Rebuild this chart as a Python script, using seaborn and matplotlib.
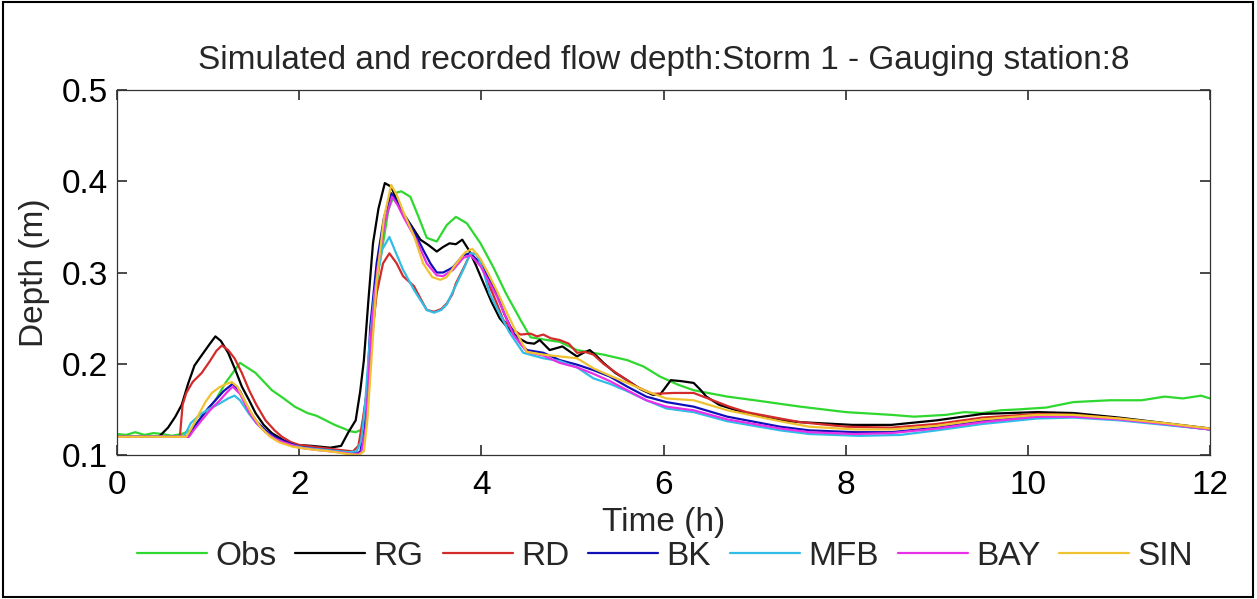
import pandas as pd
import seaborn as sns
import matplotlib
matplotlib.use("Agg")
import matplotlib.pyplot as plt
from matplotlib.patches import Rectangle

# values (time in h, depth in m)
obs_t = [0, 0.1, 0.2, 0.3, 0.4, 0.5, 0.6, 0.71, 0.81, 0.93, 1.08, 1.19, 1.27, 1.35, 1.52, 1.70,
         1.83, 1.95, 2.09, 2.19, 2.29, 2.39, 2.49, 2.56, 2.62, 2.69, 2.74, 2.81, 2.87, 2.92, 2.98,
         3.05, 3.12, 3.17, 3.22, 3.31, 3.40, 3.51, 3.62, 3.72, 3.84, 3.99, 4.13, 4.27, 4.43, 4.54,
         4.72, 4.86, 5.05, 5.34, 5.60, 5.78, 5.96, 6.16, 6.33, 6.70, 7.0, 7.5, 8.0, 8.5, 8.75,
         9.1, 9.3, 9.5, 9.7, 9.9, 10.2, 10.5, 10.9, 11.25, 11.5, 11.7, 11.9, 12.0]
obs_v = [0.123, 0.122, 0.125, 0.122, 0.124, 0.123, 0.121, 0.123, 0.127, 0.142, 0.160, 0.179, 0.190,
         0.201, 0.190, 0.171, 0.162, 0.153, 0.146, 0.143, 0.138, 0.133, 0.129, 0.126, 0.125, 0.128,
         0.168, 0.240, 0.303, 0.332, 0.369, 0.387, 0.389, 0.386, 0.383, 0.361, 0.338, 0.334, 0.352,
         0.361, 0.354, 0.332, 0.306, 0.277, 0.248, 0.229, 0.226, 0.224, 0.215, 0.210, 0.204, 0.197,
         0.186, 0.177, 0.171, 0.164, 0.160, 0.153, 0.147, 0.144, 0.142, 0.144, 0.147, 0.146, 0.149,
         0.150, 0.152, 0.158, 0.160, 0.160, 0.164, 0.162, 0.165, 0.162]

rg_t = [0, 0.46, 0.56, 0.64, 0.71, 0.78, 0.85, 0.92, 0.97, 1.02, 1.08, 1.14, 1.22, 1.30, 1.37, 1.45,
        1.52, 1.61, 1.70, 1.83, 1.98, 2.14, 2.34, 2.46, 2.54, 2.62, 2.67, 2.71, 2.76, 2.81, 2.87,
        2.94, 3.01, 3.07, 3.14, 3.24, 3.33, 3.42, 3.51, 3.58, 3.65, 3.72, 3.79, 3.86, 3.94, 4.02,
        4.11, 4.20, 4.31, 4.41, 4.50, 4.58, 4.64, 4.75, 4.82, 4.89, 4.99, 5.05, 5.12, 5.19, 5.27,
        5.34, 5.47, 5.60, 5.75, 5.88, 5.96, 6.02, 6.08, 6.19, 6.33, 6.40, 6.47, 6.61, 6.77, 6.91,
        7.12, 7.28, 7.5, 8.07, 8.5, 9.0, 9.5, 10.1, 10.5, 11.0, 11.5, 12.0]
rg_v = [0.120, 0.120, 0.130, 0.142, 0.155, 0.178, 0.198, 0.208, 0.215, 0.222, 0.230, 0.225, 0.212,
        0.193, 0.175, 0.160, 0.146, 0.133, 0.124, 0.116, 0.111, 0.110, 0.108, 0.110, 0.125, 0.138,
        0.170, 0.204, 0.270, 0.332, 0.370, 0.398, 0.394, 0.380, 0.365, 0.350, 0.336, 0.330, 0.323,
        0.328, 0.332, 0.331, 0.336, 0.325, 0.308, 0.289, 0.268, 0.250, 0.237, 0.228, 0.223, 0.222,
        0.226, 0.215, 0.217, 0.219, 0.212, 0.208, 0.212, 0.215, 0.208, 0.201, 0.190, 0.182, 0.172,
        0.166, 0.166, 0.174, 0.182, 0.181, 0.179, 0.172, 0.164, 0.155, 0.150, 0.146, 0.141, 0.138,
        0.136, 0.133, 0.133, 0.138, 0.145, 0.147, 0.146, 0.141, 0.135, 0.129]

rd_t = [0, 0.69, 0.72, 0.76, 0.83, 0.93, 1.02, 1.09, 1.15, 1.22, 1.29, 1.37, 1.45, 1.53, 1.63,
        1.73, 1.81, 1.91, 2.0, 2.24, 2.49, 2.59, 2.65, 2.70, 2.74, 2.79, 2.85, 2.92, 2.99, 3.07,
        3.14, 3.26, 3.34, 3.40, 3.48, 3.56, 3.62, 3.68, 3.72, 3.81, 3.88, 3.95, 4.02, 4.09, 4.17,
        4.24, 4.35, 4.43, 4.54, 4.61, 4.68, 4.76, 4.86, 4.96, 5.05, 5.14, 5.23, 5.34, 5.48, 5.60,
        5.70, 5.88, 6.11, 6.33, 6.54, 6.72, 6.91, 7.28, 7.5, 8.0, 8.5, 9.0, 9.5, 10.1, 10.5, 11.0,
        11.5, 12.0]
rd_v = [0.120, 0.120, 0.155, 0.168, 0.180, 0.190, 0.203, 0.214, 0.220, 0.215, 0.206, 0.190, 0.171,
        0.155, 0.138, 0.127, 0.120, 0.114, 0.111, 0.108, 0.105, 0.104, 0.110, 0.140, 0.168, 0.220,
        0.277, 0.310, 0.321, 0.310, 0.296, 0.285, 0.270, 0.259, 0.257, 0.260, 0.266, 0.276, 0.288,
        0.306, 0.321, 0.320, 0.305, 0.285, 0.266, 0.248, 0.237, 0.232, 0.233, 0.230, 0.232, 0.228,
        0.226, 0.222, 0.212, 0.213, 0.210, 0.200, 0.190, 0.182, 0.175, 0.167, 0.168, 0.168, 0.160,
        0.153, 0.147, 0.140, 0.136, 0.131, 0.130, 0.134, 0.141, 0.145, 0.144, 0.140, 0.134, 0.128]

bk_t = [0, 0.78, 0.83, 0.90, 0.99, 1.08, 1.17, 1.27, 1.35, 1.45, 1.53, 1.63, 1.73, 1.81, 2.0,
        2.24, 2.44, 2.59, 2.67, 2.72, 2.75, 2.78, 2.85, 2.93, 3.01, 3.07, 3.14, 3.22, 3.29, 3.36,
        3.44, 3.51, 3.58, 3.64, 3.69, 3.80, 3.88, 3.99, 4.07, 4.17, 4.25, 4.35, 4.43, 4.50, 4.68,
        4.86, 5.05, 5.23, 5.41, 5.60, 5.81, 6.03, 6.33, 6.70, 7.28, 7.6, 8.1, 8.5, 9.0, 9.5, 10.1,
        10.5, 11.0, 11.5, 12.0]
bk_v = [0.120, 0.120, 0.128, 0.138, 0.150, 0.160, 0.170, 0.178, 0.170, 0.149, 0.137, 0.127, 0.120,
        0.116, 0.109, 0.106, 0.104, 0.102, 0.103, 0.130, 0.180, 0.241, 0.310, 0.360, 0.387, 0.378,
        0.365, 0.352, 0.339, 0.325, 0.310, 0.300, 0.300, 0.303, 0.306, 0.319, 0.321, 0.310, 0.295,
        0.277, 0.255, 0.234, 0.222, 0.215, 0.212, 0.204, 0.199, 0.193, 0.186, 0.175, 0.164, 0.158,
        0.153, 0.142, 0.131, 0.127, 0.125, 0.125, 0.130, 0.137, 0.142, 0.142, 0.139, 0.134, 0.128]

mfb_t = [0, 0.73, 0.77, 0.81, 0.92, 1.02, 1.12, 1.22, 1.29, 1.35, 1.45, 1.53, 1.63, 1.73, 1.83,
         2.04, 2.34, 2.54, 2.63, 2.68, 2.72, 2.77, 2.83, 2.91, 2.99, 3.06, 3.14, 3.26, 3.40, 3.48,
         3.56, 3.62, 3.72, 3.81, 3.88, 3.95, 4.02, 4.09, 4.20, 4.31, 4.46, 4.68, 4.86, 5.05, 5.23,
         5.41, 5.60, 5.81, 6.03, 6.33, 6.70, 7.28, 7.6, 8.15, 8.6, 9.0, 9.5, 10.1, 10.5, 11.0,
         11.5, 12.0]
mfb_v = [0.120, 0.120, 0.127, 0.135, 0.145, 0.151, 0.156, 0.162, 0.165, 0.160, 0.145, 0.135, 0.125,
         0.118, 0.113, 0.108, 0.105, 0.103, 0.104, 0.115, 0.150, 0.220, 0.280, 0.325, 0.339, 0.322,
         0.303, 0.281, 0.259, 0.256, 0.259, 0.265, 0.286, 0.305, 0.321, 0.320, 0.302, 0.277, 0.255,
         0.234, 0.212, 0.206, 0.203, 0.196, 0.184, 0.178, 0.170, 0.160, 0.151, 0.147, 0.137, 0.127,
         0.123, 0.121, 0.122, 0.127, 0.134, 0.140, 0.141, 0.138, 0.133, 0.128]

bay_t = [0, 0.79, 0.84, 0.92, 1.02, 1.12, 1.20, 1.27, 1.35, 1.45, 1.53, 1.63, 1.73, 1.83, 2.0,
         2.24, 2.44, 2.59, 2.68, 2.73, 2.76, 2.79, 2.86, 2.94, 3.02, 3.08, 3.15, 3.29, 3.40, 3.51,
         3.58, 3.69, 3.80, 3.88, 3.99, 4.17, 4.35, 4.50, 4.68, 4.86, 5.05, 5.23, 5.41, 5.60, 5.81,
         6.03, 6.33, 6.70, 7.28, 7.6, 8.1, 8.5, 9.0, 9.5, 10.1, 10.5, 11.0, 11.5, 12.0]
bay_v = [0.120, 0.120, 0.127, 0.137, 0.149, 0.159, 0.168, 0.175, 0.167, 0.147, 0.135, 0.125, 0.118,
         0.114, 0.108, 0.105, 0.103, 0.101, 0.102, 0.130, 0.180, 0.235, 0.305, 0.355, 0.383, 0.374,
         0.360, 0.335, 0.310, 0.297, 0.296, 0.303, 0.316, 0.319, 0.307, 0.274, 0.232, 0.213, 0.209,
         0.201, 0.196, 0.189, 0.181, 0.171, 0.160, 0.153, 0.149, 0.139, 0.129, 0.125, 0.123, 0.124,
         0.129, 0.136, 0.142, 0.142, 0.139, 0.134, 0.128]

sin_t = [0, 0.76, 0.81, 0.90, 0.97, 1.04, 1.12, 1.20, 1.26, 1.32, 1.40, 1.48, 1.58, 1.68, 1.78,
         1.93, 2.14, 2.34, 2.54, 2.65, 2.71, 2.75, 2.79, 2.85, 2.93, 3.01, 3.07, 3.15, 3.26, 3.36,
         3.46, 3.55, 3.62, 3.71, 3.82, 3.90, 3.99, 4.07, 4.17, 4.27, 4.38, 4.50, 4.68, 4.86, 5.05,
         5.23, 5.41, 5.60, 5.81, 6.03, 6.33, 6.70, 7.28, 7.6, 8.1, 8.5, 9.0, 9.5, 10.1, 10.5, 11.0,
         11.5, 12.0]
sin_v = [0.120, 0.120, 0.128, 0.145, 0.158, 0.168, 0.174, 0.178, 0.180, 0.175, 0.160, 0.145, 0.130,
         0.120, 0.114, 0.109, 0.106, 0.104, 0.101, 0.100, 0.104, 0.140, 0.200, 0.290, 0.360, 0.396,
         0.385, 0.365, 0.340, 0.310, 0.295, 0.292, 0.295, 0.308, 0.322, 0.326, 0.315, 0.300, 0.280,
         0.258, 0.235, 0.213, 0.210, 0.208, 0.206, 0.195, 0.187, 0.179, 0.170, 0.162, 0.160, 0.149,
         0.137, 0.131, 0.128, 0.128, 0.132, 0.139, 0.144, 0.144, 0.140, 0.135, 0.129]

series_names = ["Obs", "RG", "RD", "BK", "MFB", "BAY", "SIN"]
series_t = [obs_t, rg_t, rd_t, bk_t, mfb_t, bay_t, sin_t]
series_v = [obs_v, rg_v, rd_v, bk_v, mfb_v, bay_v, sin_v]
colours = {"Obs": "#2ed82e", "RG": "#000000", "RD": "#d42a2a", "BK": "#1010b8",
           "MFB": "#30bde6", "BAY": "#e830e8", "SIN": "#f0c230"}

frames = []
for name, t, v in zip(series_names, series_t, series_v):
    frames.append(pd.DataFrame({"Time (h)": t, "Depth (m)": v, "serie": name}))
data_tab = pd.concat(frames, ignore_index=True)

sns.set_theme(style="ticks", rc={"xtick.direction": "in", "ytick.direction": "in",
                                 "xtick.top": True, "ytick.right": True,
                                 "xtick.major.size": 7, "ytick.major.size": 7,
                                 "axes.linewidth": 0.9, "axes.edgecolor": "#333333"})
plt.rcParams["font.family"] = ["Liberation Sans", "DejaVu Sans"]

fig = plt.figure(figsize=(12.57, 5.99), dpi=100)
ax = fig.add_axes([0.0931, 0.2404, 0.8696, 0.6093])
sns.lineplot(data=data_tab, x="Time (h)", y="Depth (m)", hue="serie", palette=colours,
             hue_order=series_names, estimator=None, sort=False, linewidth=1.6, ax=ax)

ax.set_xlim(0, 12)
ax.set_ylim(0.1, 0.5)
ax.set_xticks([0, 2, 4, 6, 8, 10, 12])
ax.set_yticks([0.1, 0.2, 0.3, 0.4, 0.5])
ax.set_xticklabels(["0", "2", "4", "6", "8", "10", "12"])
ax.tick_params(labelsize=24, colors="#333333", labelcolor="black")
ax.tick_params(axis="x", pad=11)
ax.tick_params(axis="y", pad=6.5)
ax.set_xlabel("Time (h)", fontsize=24)
ax.set_ylabel("Depth (m)", fontsize=24)
ax.xaxis.set_label_coords(0.5, -0.142)
ax.yaxis.set_label_coords(-0.061, 0.5)
ax.set_title("Simulated and recorded flow depth:Storm 1 - Gauging station:8", fontsize=24, pad=15)

ax.get_legend().remove()
handles, labels = ax.get_legend_handles_labels()
fig.legend(handles, labels, loc="center", bbox_to_anchor=(0.529, 0.071), ncol=7,
           frameon=False, fontsize=24, handlelength=2.1, handletextpad=0.25,
           columnspacing=0.57)

fig.patches.append(Rectangle((0.002, 0.003), 0.995, 0.994, transform=fig.transFigure,
                             fill=False, edgecolor="black", linewidth=1.5))

plt.savefig("out.png", dpi=100)
